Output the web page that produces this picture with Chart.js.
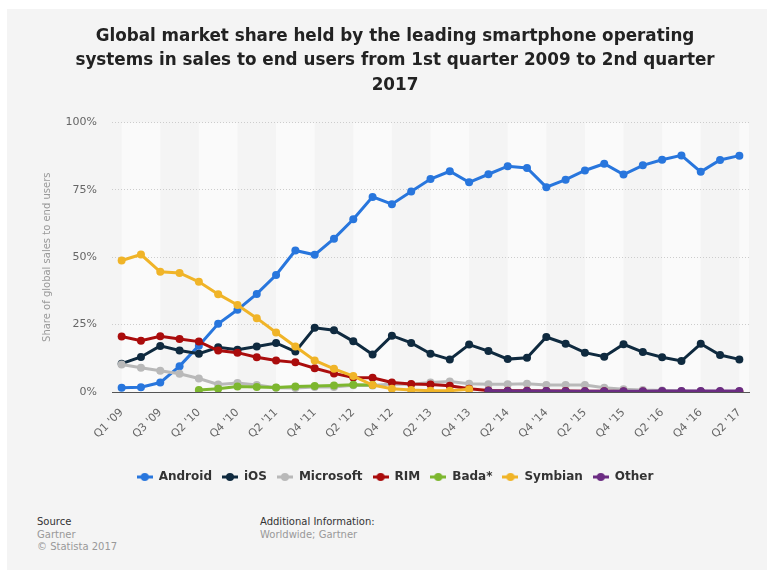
<!DOCTYPE html>
<html>
<head>
<meta charset="utf-8">
<script src="https://cdn.jsdelivr.net/npm/chart.js@4"></script>
<style>
  html, body { margin: 0; padding: 0; background: #ffffff; }
  body { width: 767px; height: 575px; position: relative; overflow: hidden; font-family: "DejaVu Sans", sans-serif; }
  #card { position: absolute; left: 7px; top: 9px; right: 0; bottom: 5px; background: #f4f4f4; }
  #grafico { position: absolute; left: 0; top: 0; }
  .nota { position: absolute; font-size: 10px; line-height: 12.5px; color: #999; }
  .nota b { font-weight: normal; color: #333; }
</style>
</head>
<body>
<div id="card"></div>
<canvas id="grafico" width="767" height="500"></canvas>
<div class="nota" style="left:37px; top:516px;"><b>Source</b><br>Gartner<br>© Statista 2017</div>
<div class="nota" style="left:260px; top:516px;"><b>Additional Information:</b><br>Worldwide; Gartner</div>
<script>
// Trimestres (Q4 '09 não aparece na série original)
const trimestres = ["Q1 '09","Q2 '09","Q3 '09","Q1 '10","Q2 '10","Q3 '10","Q4 '10","Q1 '11","Q2 '11","Q3 '11","Q4 '11",
  "Q1 '12","Q2 '12","Q3 '12","Q4 '12","Q1 '13","Q2 '13","Q3 '13","Q4 '13","Q1 '14","Q2 '14","Q3 '14","Q4 '14",
  "Q1 '15","Q2 '15","Q3 '15","Q4 '15","Q1 '16","Q2 '16","Q3 '16","Q4 '16","Q1 '17","Q2 '17"];

const android = [1.6, 1.8, 3.5, 9.6, 17.2, 25.3, 30.5, 36.4, 43.4, 52.5, 50.9, 56.9, 64.1, 72.4, 69.7, 74.4, 79.0,
  81.9, 77.8, 80.8, 83.8, 83.1, 76.0, 78.8, 82.2, 84.7, 80.7, 84.1, 86.2, 87.8, 81.7, 86.1, 87.7];
const ios = [10.5, 13.0, 17.1, 15.4, 14.2, 16.6, 15.7, 16.9, 18.2, 15.0, 23.8, 22.9, 18.8, 13.9, 20.9, 18.2, 14.2,
  12.1, 17.6, 15.2, 12.2, 12.7, 20.4, 17.9, 14.6, 13.1, 17.7, 14.8, 12.9, 11.5, 17.9, 13.7, 12.1];
const microsoft = [10.2, 9.0, 7.9, 6.8, 5.0, 2.8, 3.3, 2.6, 1.6, 1.5, 1.9, 1.9, 2.5, 2.4, 3.0, 2.9, 3.5,
  3.9, 3.1, 2.9, 2.9, 3.1, 2.6, 2.6, 2.6, 1.6, 1.0, 0.7, 0.6, 0.4, 0.3, 0.2, 0.1];
const rim = [20.6, 19.0, 20.7, 19.7, 18.7, 15.4, 14.6, 12.9, 11.7, 11.0, 8.8, 6.9, 5.4, 5.3, 3.5, 3.0, 2.8,
  2.3, 1.2, 0.6, 0.5, 0.5, 0.4, 0.4, 0.3, 0.3, 0.2, 0.2, 0.0, 0.0, 0.1, 0.1, 0.1];
const bada = [null, null, null, null, 0.7, 1.2, 2.0, 1.9, 1.7, 2.0, 2.2, 2.4, 2.7, 2.6];
const symbian = [48.8, 51.0, 44.6, 44.2, 40.9, 36.3, 32.3, 27.4, 22.1, 16.9, 11.7, 8.6, 5.9, 2.6, 1.2, 0.7, 0.5,
  0.5, 1.0];
const outros = [null, null, null, null, null, null, null, null, null, null, null, null, null, null, null, null, null,
  null, null, 0.5, 0.4, 0.4, 0.4, 0.3, 0.3, 0.3, 0.3, 0.3, 0.4, 0.4, 0.4, 0.4, 0.4];

const yTicks = [0, 25, 50, 75, 100];

const series = [
  { nome: 'Android', dados: android, cor: '#2876dd' },
  { nome: 'iOS', dados: ios, cor: '#0f2a3f' },
  { nome: 'Microsoft', dados: microsoft, cor: '#b9b9b9' },
  { nome: 'RIM', dados: rim, cor: '#aa0c0c' },
  { nome: 'Bada*', dados: bada, cor: '#7db72f' },
  { nome: 'Symbian', dados: symbian, cor: '#f0b428' },
  { nome: 'Other', dados: outros, cor: '#6b2c82' }
];

// simbolo da legenda: linha com bolinha no meio
function simbolo(cor) {
  const c = document.createElement('canvas');
  c.width = 16; c.height = 10;
  const g = c.getContext('2d');
  g.strokeStyle = cor; g.lineWidth = 3;
  g.beginPath(); g.moveTo(0, 5); g.lineTo(16, 5); g.stroke();
  g.fillStyle = cor;
  g.beginPath(); g.arc(8, 5, 4, 0, Math.PI * 2); g.fill();
  return c;
}
const simbolos = series.map(s => simbolo(s.cor));

// faixas verticais alternadas do fundo
const faixas = {
  id: 'faixas',
  beforeDraw(chart) {
    const { ctx, chartArea: a, scales: { x } } = chart;
    ctx.save();
    ctx.fillStyle = '#fafafa';
    for (let i = 0; i < trimestres.length; i += 4) {
      const x0 = x.getPixelForValue(i);
      const x1 = Math.min(x.getPixelForValue(i + 2), a.right);
      ctx.fillRect(x0, a.top, x1 - x0, a.bottom - a.top);
    }
    ctx.restore();
  }
};

new Chart(document.getElementById('grafico'), {
  type: 'line',
  data: {
    labels: trimestres,
    datasets: series.map((s, i) => ({
      label: s.nome,
      data: s.dados,
      borderColor: s.cor,
      backgroundColor: s.cor,
      pointBackgroundColor: s.cor,
      pointBorderWidth: 0,
      pointRadius: 4,
      borderWidth: 3,
      tension: 0,
      spanGaps: false,
      order: -i
    }))
  },
  options: {
    responsive: false,
    animation: false,
    layout: { padding: { left: 41, right: 18, top: 0, bottom: 7 } },
    plugins: {
      title: {
        display: true,
        text: ['Global market share held by the leading smartphone operating',
               'systems in sales to end users from 1st quarter 2009 to 2nd quarter',
               '2017'],
        color: '#222',
        font: { family: 'DejaVu Sans', size: 16.8, weight: 'bold', lineHeight: '24.5px' },
        padding: { top: 24, bottom: 25 }
      },
      legend: {
        position: 'bottom',
        labels: {
          usePointStyle: true,
          pointStyleWidth: 16,
          padding: 10,
          color: '#333',
          font: { family: 'DejaVu Sans', size: 12, weight: 'bold' },
          generateLabels: chart => chart.data.datasets.map((ds, i) => ({
            text: ds.label,
            pointStyle: simbolos[i],
            fillStyle: ds.borderColor,
            strokeStyle: ds.borderColor,
            lineWidth: 0,
            fontColor: '#333',
            hidden: !chart.isDatasetVisible(i),
            datasetIndex: i
          }))
        }
      },
      tooltip: { enabled: false }
    },
    scales: {
      x: {
        offset: true,
        grid: { display: false },
        border: { display: true, color: '#555', width: 1 },
        afterFit: s => { s.height = 69; },
        ticks: {
          autoSkip: false,
          minRotation: 45,
          maxRotation: 45,
          padding: 6,
          color: '#666',
          font: { family: 'DejaVu Sans', size: 11 },
          callback: function (v, i) { return i % 2 === 0 ? this.getLabelForValue(v) : ''; }
        }
      },
      y: {
        min: 0,
        max: 100,
        afterFit: s => { s.width = 71; },
        afterBuildTicks: s => { s.ticks = yTicks.map(v => ({ value: v })); },
        border: { display: false, dash: [1, 2] },
        grid: { color: '#cccccc', drawTicks: false, lineWidth: 1 },
        ticks: {
          padding: 15,
          color: '#666',
          font: { family: 'DejaVu Sans', size: 11 },
          callback: v => v + '%'
        },
        title: {
          display: true,
          text: 'Share of global sales to end users',
          color: '#999',
          font: { family: 'DejaVu Sans', size: 10 },
          padding: { top: 0, bottom: 0 }
        }
      }
    }
  },
  plugins: [faixas]
});
</script>
</body>
</html>
